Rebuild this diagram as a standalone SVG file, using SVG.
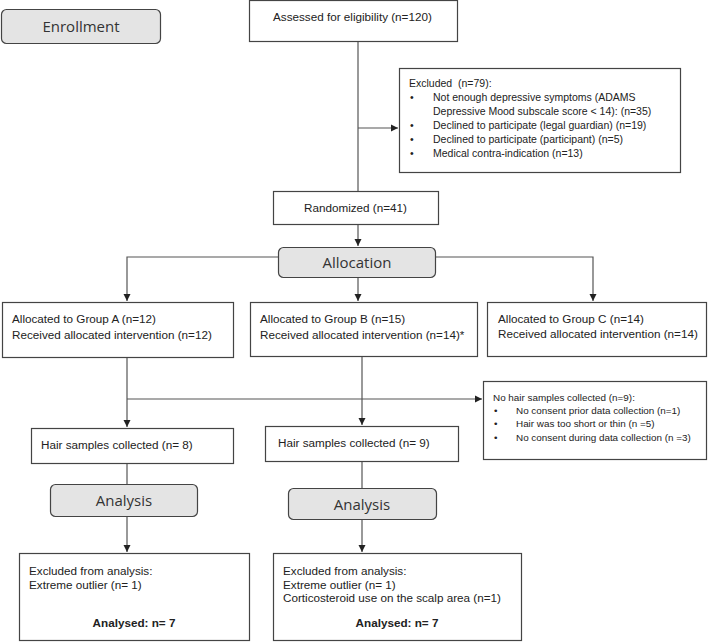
<svg xmlns="http://www.w3.org/2000/svg" width="709" height="642" viewBox="0 0 709 642">
<style>
.box{fill:#fff;stroke:#444;stroke-width:1.2}
.hdr{fill:#e4e4e4;stroke:#444;stroke-width:1.2}
.t{font-family:"Liberation Sans",Arial,sans-serif;font-size:11.7px;fill:#222}
.s{font-family:"Liberation Sans",Arial,sans-serif;font-size:10.5px;fill:#222}
.xs{font-family:"Liberation Sans",Arial,sans-serif;font-size:9.9px;fill:#222}
.b{font-family:"Liberation Sans",Arial,sans-serif;font-size:11.7px;font-weight:bold;fill:#222;text-anchor:middle}
.h{font-family:"Open Sans",sans-serif;font-size:15px;fill:#333;text-anchor:middle}
.c{fill:none;stroke:#555;stroke-width:1.2}
</style>
<defs>
<marker id="ar" markerWidth="8" markerHeight="8" refX="7" refY="4" orient="auto" markerUnits="userSpaceOnUse">
<path d="M0,0.5 L7,4 L0,7.5 Z" fill="#222"/>
</marker>
</defs>
<rect width="709" height="642" fill="#fff"/>
<g id="connectors">
<path class="c" d="M358,41 V191"/>
<path class="c" d="M358,128 H398" marker-end="url(#ar)"/>
<path class="c" d="M358,225 V246" marker-end="url(#ar)"/>
<path class="c" d="M278,257 H127 V301" marker-end="url(#ar)"/>
<path class="c" d="M436,257 H593 V301" marker-end="url(#ar)"/>
<path class="c" d="M358,278 V301" marker-end="url(#ar)"/>
<path class="c" d="M127,357 V427" marker-end="url(#ar)"/>
<path class="c" d="M127,399 H482" marker-end="url(#ar)"/>
<path class="c" d="M362,356 V425" marker-end="url(#ar)"/>
<path class="c" d="M127,463 V484"/>
<path class="c" d="M127,516 V552" marker-end="url(#ar)"/>
<path class="c" d="M362,461 V488"/>
<path class="c" d="M362,519 V552" marker-end="url(#ar)"/>
</g>
<g id="enrollment">
<rect class="hdr" x="1.5" y="9.5" width="159" height="34" rx="5"/>
<text class="h" x="81" y="32">Enrollment</text>
</g>
<g id="assessed">
<rect class="box" x="249.5" y="0.5" width="208" height="41"/>
<text class="t" x="273" y="21">Assessed for eligibility (n=120)</text>
</g>
<g id="excluded">
<rect class="box" x="399.5" y="68.5" width="281" height="104"/>
<text class="s" x="409" y="87" xml:space="preserve">Excluded  (n=79):</text>
<text class="s" x="410" y="101">•</text><text class="s" x="433" y="101">Not enough depressive symptoms (ADAMS</text>
<text class="s" x="433" y="115">Depressive Mood subscale score &lt; 14): (n=35)</text>
<text class="s" x="410" y="129">•</text><text class="s" x="433" y="129">Declined to participate (legal guardian) (n=19)</text>
<text class="s" x="410" y="143">•</text><text class="s" x="433" y="143">Declined to participate (participant) (n=5)</text>
<text class="s" x="410" y="157">•</text><text class="s" x="433" y="157">Medical contra-indication (n=13)</text>
</g>
<g id="randomized">
<rect class="box" x="273.5" y="191.5" width="165" height="33"/>
<text class="t" x="304" y="212">Randomized (n=41)</text>
</g>
<g id="allocation">
<rect class="hdr" x="278.5" y="247.5" width="157" height="30" rx="5"/>
<text class="h" x="357" y="268">Allocation</text>
</g>
<g id="groupA">
<rect class="box" x="2.5" y="302.5" width="231" height="55"/>
<text class="t" x="12" y="323">Allocated to Group A (n=12)</text>
<text class="t" x="12" y="339">Received allocated intervention (n=12)</text>
</g>
<g id="groupB">
<rect class="box" x="250.5" y="302.5" width="227" height="54"/>
<text class="t" x="260" y="323">Allocated to Group B (n=15)</text>
<text class="t" x="260" y="339">Received allocated intervention (n=14)*</text>
</g>
<g id="groupC">
<rect class="box" x="487.5" y="302.5" width="219" height="54"/>
<text class="t" x="498" y="323">Allocated to Group C (n=14)</text>
<text class="t" x="498" y="338">Received allocated intervention (n=14)</text>
</g>
<g id="nohair">
<rect class="box" x="483.5" y="381.5" width="223" height="78"/>
<text class="xs" x="493" y="401">No hair samples collected (n=9):</text>
<text class="xs" x="494" y="414">•</text><text class="xs" x="516" y="414">No consent prior data collection (n=1)</text>
<text class="xs" x="494" y="427">•</text><text class="xs" x="516" y="427">Hair was too short or thin (n =5)</text>
<text class="xs" x="494" y="441">•</text><text class="xs" x="516" y="441">No consent during data collection (n =3)</text>
</g>
<g id="hairA">
<rect class="box" x="31.5" y="428.5" width="202" height="35"/>
<text class="t" x="41" y="449">Hair samples collected (n= 8)</text>
</g>
<g id="hairB">
<rect class="box" x="265.5" y="426.5" width="193" height="35"/>
<text class="t" x="278" y="447">Hair samples collected (n= 9)</text>
</g>
<g id="analysisA">
<rect class="hdr" x="50.5" y="484.5" width="147" height="32" rx="5"/>
<text class="h" x="124" y="506">Analysis</text>
</g>
<g id="analysisB">
<rect class="hdr" x="288.5" y="488.5" width="148" height="31" rx="5"/>
<text class="h" x="362" y="510">Analysis</text>
</g>
<g id="exclA">
<rect class="box" x="19.5" y="553.5" width="230" height="87"/>
<text class="t" x="29" y="575">Excluded from analysis:</text>
<text class="t" x="29" y="589">Extreme outlier (n= 1)</text>
<text class="b" x="134" y="627">Analysed: n= 7</text>
</g>
<g id="exclB">
<rect class="box" x="273.5" y="553.5" width="248" height="87"/>
<text class="t" x="283" y="575">Excluded from analysis:</text>
<text class="t" x="283" y="589">Extreme outlier (n= 1)</text>
<text class="t" x="283" y="602">Corticosteroid use on the scalp area (n=1)</text>
<text class="b" x="397" y="627">Analysed: n= 7</text>
</g>
</svg>
